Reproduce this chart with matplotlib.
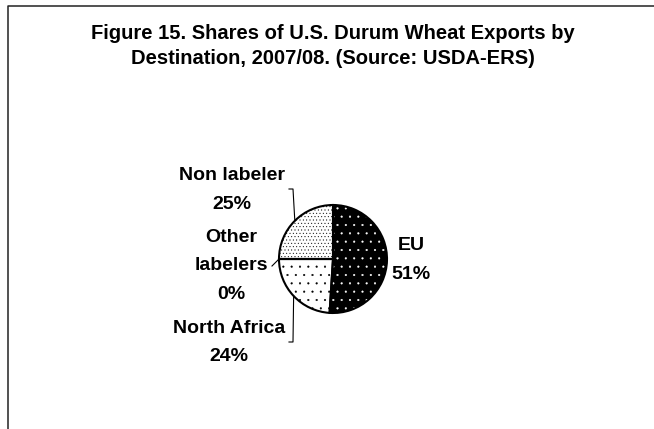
import matplotlib.pyplot as plt
import numpy as np

# data
categories = ['EU', 'North Africa', 'Other\nlabelers', 'Non labeler']
shares = [51, 24, 0, 25]
face_colors = ['black', 'white', 'white', 'white']
hatch_colors = ['white', 'black', 'black', 'black']
hatches = ['..', '..', '', '.....']
title = 'Figure 15. Shares of U.S. Durum Wheat Exports by\nDestination, 2007/08. (Source: USDA-ERS)'

# layout (pixel-like data units, y up)
W, H = 654, 429
center = (333, 170)
radius = 54
label_pos = [(411, 169), (229, 86.5), (231, 163), (232, 239)]
leader_pts = [
    [],
    [(293, 87), (289, 87)],
    [(272, 163)],
    [(293, 240), (289, 240)],
]

plt.rcParams['font.family'] = ['Liberation Sans', 'DejaVu Sans']
plt.rcParams['hatch.linewidth'] = 0.3

fig = plt.figure(figsize=(6.54, 4.29), dpi=100)
ax = fig.add_axes([0, 0, 1, 1])

wedges, _ = ax.pie(shares, colors=face_colors, startangle=90, counterclock=False,
                   center=center, radius=radius, wedgeprops=dict(linewidth=0))
for w, h, hc in zip(wedges, hatches, hatch_colors):
    w.set_hatch(h)
    w.set_edgecolor(hc)

# outline on top
ax.pie(shares, startangle=90, counterclock=False, center=center, radius=radius,
       wedgeprops=dict(fill=False, edgecolor='black', linewidth=1.5))

for w, cat, val, pos, pts in zip(wedges, categories, shares, label_pos, leader_pts):
    ax.text(pos[0], pos[1], f'{cat}\n{val}%', ha='center', va='center',
            fontsize=14, fontweight='bold', linespacing=1.85)
    if pts:
        mid = np.deg2rad((w.theta1 + w.theta2) / 2)
        xs = [center[0] + radius * np.cos(mid)] + [p[0] for p in pts]
        ys = [center[1] + radius * np.sin(mid)] + [p[1] for p in pts]
        ax.plot(xs, ys, color='black', lw=0.8)

ax.text(333, 383, title, ha='center', va='center', fontsize=14.5,
        fontweight='bold', linespacing=1.45)

# frame border (top and left visible)
ax.plot([8, 8, W], [0, H - 5.5, H - 5.5], color='#222222', lw=1.1, clip_on=False)

ax.set_xlim(0, W)
ax.set_ylim(0, H)
ax.set_aspect('equal')
ax.axis('off')

fig.savefig('out.png', dpi=100)
